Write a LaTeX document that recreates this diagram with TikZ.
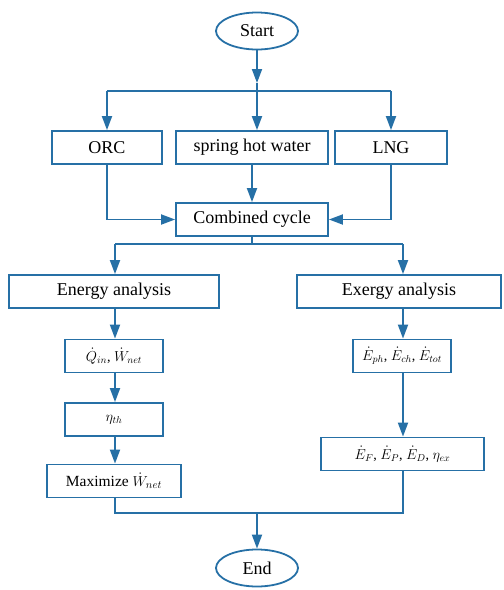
\documentclass[tikz,border=0pt]{standalone}
\usepackage{fontspec}
\setmainfont{Liberation Serif}
\usetikzlibrary{shapes.geometric,arrows.meta}
\definecolor{fblue}{RGB}{38,112,166}
\begin{document}
\begin{tikzpicture}[x=1pt,y=-1pt,
  box/.style={draw=fblue,line width=1.8pt,rectangle,inner sep=0pt,minimum height=33pt,font=\fontsize{18}{20}\selectfont},
  mbox/.style={box,font=\fontsize{14}{16}\selectfont},
  term/.style={draw=fblue,line width=1.8pt,ellipse,inner sep=0pt,minimum width=82pt,minimum height=37pt,font=\fontsize{18}{20}\selectfont},
  conn/.style={draw=fblue,line width=1.8pt},
  arr/.style={conn,-{Triangle[length=14pt,width=10pt]}}]
\useasboundingbox (0,0) rectangle (504,590);
% terminals
\node[term] (start) at (257,31) {Start};
\node[term] (end) at (257,568) {End};
% row 1
\node[box,minimum width=110pt] (orc) at (107,147.5) {ORC};
\node[box,minimum width=152pt] (spring) at (252,147.5) {spring hot water};
\node[box,minimum width=112pt] (lng) at (391,147.5) {LNG};
\node[box,minimum width=152pt] (comb) at (252,219.5) {Combined cycle};
% analysis
\node[box,minimum width=210pt] (energy) at (114,291.5) {Energy analysis};
\node[box,minimum width=204pt] (exergy) at (399,291.5) {Exergy analysis};
% left column
\node[mbox,minimum width=98pt] (qw) at (114,356) {$\dot{Q}_{in}$, $\dot{W}_{net}$};
\node[mbox,minimum width=98pt] (eta) at (114,419.5) {$\eta_{th}$};
\node[mbox,minimum width=134pt,font=\fontsize{15.5}{17}\selectfont] (maxw) at (114,481) {Maximize $\dot{W}_{net}$};
% right column
\node[mbox,minimum width=98pt] (eph) at (402,356) {$\dot{E}_{ph}$, $\dot{E}_{ch}$, $\dot{E}_{tot}$};
\node[mbox,minimum width=163pt] (ef) at (402.5,454) {$\dot{E}_{F}$, $\dot{E}_{P}$, $\dot{E}_{D}$, $\eta_{ex}$};
% junctions
\coordinate (jtop) at (257,91);
\coordinate (jtip) at (257,83);
\coordinate (jl) at (107,91);
\coordinate (jr) at (391,91);
\coordinate (jc) at (252,244);
\coordinate (jcl) at (115,244);
\coordinate (jcr) at (403,244);
\coordinate (jb) at (257,513);
\coordinate (jbl) at (115,513);
\coordinate (jbr) at (403,513);
% connectors top
\draw[arr] (start) -- (jtip);
\draw[conn] (jtip) -- (jtop);
\draw[conn] (jl) -- (jr);
\draw[arr] (jl) -- (orc.north);
\draw[arr] (jtop) -- (jtop |- spring.north);
\draw[arr] (jr) -- (lng.north);
\draw[arr] (spring) -- (comb);
\draw[arr] (orc.south) |- (comb.west);
\draw[arr] (lng.south) |- (comb.east);
% split
\draw[conn] (comb.south) -- (jc);
\draw[conn] (jcl) -- (jcr);
\draw[arr] (jcl) -- (jcl |- energy.north);
\draw[arr] (jcr) -- (jcr |- exergy.north);
% left chain
\draw[arr] (jcl |- energy.south) -- (jcl |- qw.north);
\draw[arr] (jcl |- qw.south) -- (jcl |- eta.north);
\draw[arr] (jcl |- eta.south) -- (jcl |- maxw.north);
% right chain
\draw[arr] (jcr |- exergy.south) -- (jcr |- eph.north);
\draw[arr] (jcr |- eph.south) -- (jcr |- ef.north);
% merge
\draw[conn] (jcl |- maxw.south) -- (jbl) -- (jbr) -- (jcr |- ef.south);
\draw[arr] (jb) -- (end);
\end{tikzpicture}
\end{document}
